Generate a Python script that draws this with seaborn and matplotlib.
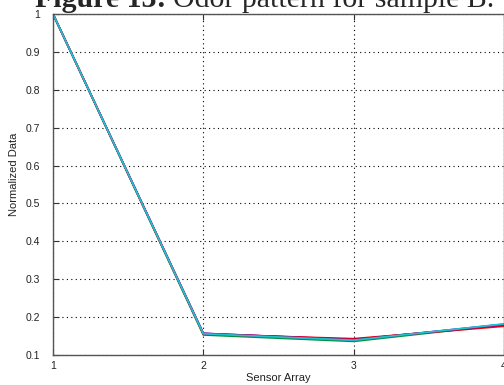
import matplotlib
matplotlib.use("Agg")
import matplotlib.pyplot as plt
import seaborn as sns
import pandas as pd

sensors = [1, 2, 3, 4]
series_names = ["s1", "s2", "s3", "s4", "s5"]
s1 = [1.0, 0.157, 0.140, 0.181]
s2 = [1.0, 0.153, 0.136, 0.180]
s3 = [1.0, 0.155, 0.143, 0.176]
s4 = [1.0, 0.157, 0.141, 0.179]
s5 = [1.0, 0.156, 0.139, 0.182]
colors = ["#0000ff", "#009040", "#ff0000", "#b00060", "#20c0d0"]
yticks = [0.1, 0.2, 0.3, 0.4, 0.5, 0.6, 0.7, 0.8, 0.9, 1.0]
ytick_labels = ["0.1", "0.2", "0.3", "0.4", "0.5", "0.6", "0.7", "0.8", "0.9", "1"]
xticks = [1, 2, 3, 4]

rows = []
for name, vals in zip(series_names, [s1, s2, s3, s4, s5]):
    for x, v in zip(sensors, vals):
        rows.append({"sensor": x, "value": v, "series": name})
df = pd.DataFrame(rows)

sns.set_style("white")
plt.rcParams["font.family"] = ["Liberation Sans", "DejaVu Sans"]

fig = plt.figure(figsize=(5.04, 3.85), dpi=100)
ax = fig.add_axes([53 / 504, 30 / 385, 451 / 504, 341 / 385])

sns.lineplot(data=df, x="sensor", y="value", hue="series", palette=colors,
             linewidth=1.3, legend=False, ax=ax, estimator=None)

ax.set_xlim(1, 4)
ax.set_ylim(0.1, 1.0)
ax.set_xticks(xticks)
ax.set_xticklabels([str(x) for x in xticks])
ax.set_yticks(yticks)
ax.set_yticklabels(ytick_labels)
ax.grid(True, linestyle=(0, (1, 3)), color="black", linewidth=0.8)
ax.tick_params(axis="y", direction="in", length=4, labelsize=7.5,
               colors="#333333", pad=9, left=True)
ax.tick_params(axis="x", direction="in", length=4, labelsize=7.5,
               colors="#333333", pad=4, bottom=True, top=True)
for lab in ax.get_xticklabels() + ax.get_yticklabels():
    lab.set_color("#222222")
for s in ["left", "bottom", "top", "right"]:
    ax.spines[s].set_color("#555555")
    ax.spines[s].set_linewidth(1.0)
ax.set_xlabel("Sensor Array", fontsize=8, labelpad=2, color="#222222")
ax.set_ylabel("Normalized Data", fontsize=8, color="#222222")
ax.yaxis.set_label_coords(-0.075, 0.53)

t1 = fig.text(35 / 504, 378 / 385, "Figure 13:", ha="left", va="baseline",
              fontsize=21.5, family="Liberation Serif", fontweight="bold")
fig.canvas.draw()
bb = t1.get_window_extent()
fig.text(bb.x1 / 504 + 7 / 504, 378 / 385, "Odor pattern for sample B.",
         ha="left", va="baseline", fontsize=21.5, family="Liberation Serif")

fig.savefig("out.png", dpi=100)
